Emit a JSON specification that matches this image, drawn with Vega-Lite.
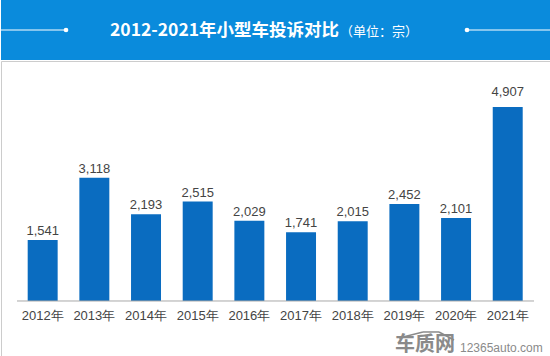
{
"$schema":"https://vega.github.io/schema/vega-lite/v6.json",
"padding":0,"spacing":0,"background":"#ffffff",
"config":{"font":"Liberation Sans"},
"datasets":{
"complaints":[
{"year":"2012年","count":1541},{"year":"2013年","count":3118},{"year":"2014年","count":2193},{"year":"2015年","count":2515},{"year":"2016年","count":2029},{"year":"2017年","count":1741},{"year":"2018年","count":2015},{"year":"2019年","count":2452},{"year":"2020年","count":2101},{"year":"2021年","count":4907}],
"titleText":[{"label":"2012-2021年小型车投诉对比"}],
"unitText":[{"label":"（单位：宗）"}],
"brand":[{"label":"车质网"}],
"site":[{"label":"12365auto.com"}],
"roof":[{"a":398,"a2":422,"b":-936,"b2":-784},{"a":422,"a2":438,"b":-784,"b2":-784},{"a":438,"a2":453,"b":-784,"b2":-987}]
},
"vconcat":[
{"width":550,"height":60,"view":{"fill":"#0a8bdc","stroke":null},
"layer":[
{"data":{"values":[{}]},"mark":{"type":"rule","color":"#ffffff","strokeWidth":1},"encoding":{"x":{"datum":0,"type":"quantitative","scale":{"domain":[0,550]},"axis":null},"x2":{"datum":65},"y":{"datum":30,"type":"quantitative","scale":{"domain":[60,0]},"axis":null}}},
{"data":{"values":[{}]},"mark":{"type":"rule","color":"#ffffff","strokeWidth":1},"encoding":{"x":{"datum":466,"type":"quantitative"},"x2":{"datum":550},"y":{"datum":30,"type":"quantitative"}}},
{"data":{"values":[{}]},"mark":{"type":"circle","color":"#ffffff","size":22,"opacity":1},"encoding":{"x":{"datum":65,"type":"quantitative"},"y":{"datum":30,"type":"quantitative"}}},
{"data":{"values":[{}]},"mark":{"type":"circle","color":"#ffffff","size":22,"opacity":1},"encoding":{"x":{"datum":466,"type":"quantitative"},"y":{"datum":30,"type":"quantitative"}}},
{"data":{"name":"titleText"},"mark":{"type":"text","font":"Noto Sans CJK SC","fontWeight":"bold","fontSize":17.5,"color":"#ffffff","align":"left","baseline":"middle"},"encoding":{"x":{"datum":109,"type":"quantitative"},"y":{"datum":31,"type":"quantitative"},"text":{"field":"label"}}},
{"data":{"name":"unitText"},"mark":{"type":"text","font":"Noto Sans CJK SC","fontSize":13,"color":"#ffffff","align":"left","baseline":"middle"},"encoding":{"x":{"datum":339,"type":"quantitative"},"y":{"datum":32,"type":"quantitative"},"text":{"field":"label"}}}
]},
{"width":550,"height":296,"view":{"fill":"#ffffff","stroke":"#cccccc","strokeWidth":1},
"resolve":{"scale":{"x":"independent"},"axis":{"x":"independent"}},
"layer":[
{"data":{"name":"complaints"},"mark":{"type":"bar","color":"#0a6cc0"},"encoding":{
"x":{"field":"year","type":"ordinal","sort":null,"scale":{"type":"band","paddingInner":0.42,"paddingOuter":0.532,"range":[-0.8,549.2]},"axis":{"title":null,"domain":false,"ticks":false,"labelAngle":0,"labelFontSize":13,"labelColor":"#444444","labelPadding":8,"offset":-56,"labelFont":"Liberation Sans","labelOverlap":false}},
"y":{"field":"count","type":"quantitative","scale":{"domain":[-1417,6071],"nice":false,"zero":false},"axis":null}}},
{"data":{"name":"complaints"},"transform":[{"filter":"datum.count < 4000"}],"mark":{"type":"text","fontSize":13,"color":"#444444","baseline":"bottom","dy":-2},"encoding":{
"x":{"field":"year","type":"ordinal","sort":null,"bandPosition":0.5,"scale":{"type":"band","domain":["2012年","2013年","2014年","2015年","2016年","2017年","2018年","2019年","2020年","2021年"],"paddingInner":0.42,"paddingOuter":0.532,"range":[-0.8,549.2]},"axis":null},
"y":{"field":"count","type":"quantitative"},
"text":{"field":"count","type":"quantitative","format":","}}},
{"data":{"name":"complaints"},"transform":[{"filter":"datum.count >= 4000"}],"mark":{"type":"text","fontSize":13,"color":"#444444","baseline":"bottom","dy":-8},"encoding":{
"x":{"field":"year","type":"ordinal","sort":null,"bandPosition":0.5,"scale":{"type":"band","domain":["2012年","2013年","2014年","2015年","2016年","2017年","2018年","2019年","2020年","2021年"],"paddingInner":0.42,"paddingOuter":0.532,"range":[-0.8,549.2]},"axis":null},
"y":{"field":"count","type":"quantitative"},
"text":{"field":"count","type":"quantitative","format":","}}},
{"data":{"values":[{}]},"mark":{"type":"rule","color":"#a8a8a8","strokeWidth":1},"encoding":{
"x":{"datum":16,"type":"quantitative","scale":{"domain":[0,550]},"axis":null},"x2":{"datum":533},"y":{"datum":0,"type":"quantitative"}}},
{"data":{"name":"roof"},"mark":{"type":"rule","color":"#8a8a8a","strokeWidth":1.5},"encoding":{
"x":{"field":"a","type":"quantitative","scale":{"domain":[0,550]},"axis":null},"x2":{"field":"a2"},"y":{"field":"b","type":"quantitative"},"y2":{"field":"b2"}}},
{"data":{"name":"brand"},"mark":{"type":"text","font":"Noto Sans CJK SC","fontWeight":"bold","fontSize":20,"color":"#8a8a8a","align":"left","baseline":"middle"},"encoding":{
"x":{"datum":394,"type":"quantitative","scale":{"domain":[0,550]},"axis":null},"y":{"datum":-1110,"type":"quantitative"},"text":{"field":"label"}}},
{"data":{"name":"site"},"mark":{"type":"text","fontSize":12,"color":"#8a8a8a","align":"left","baseline":"middle"},"encoding":{
"x":{"datum":459,"type":"quantitative","scale":{"domain":[0,550]},"axis":null},"y":{"datum":-1190,"type":"quantitative"},"text":{"field":"label"}}}
]}
]
}
